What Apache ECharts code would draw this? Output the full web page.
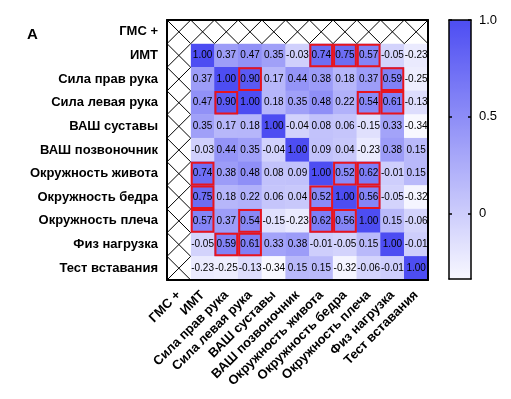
<!DOCTYPE html>
<html>
<head>
<meta charset="utf-8">
<script src="https://cdn.jsdelivr.net/npm/echarts@6/dist/echarts.min.js"></script>
<style>
  html, body { margin: 0; padding: 0; background: #fff; }
  #main { width: 511px; height: 399px; }
</style>
</head>
<body>
<div id="main"></div>
<script>
// подписи осей (первая строка/столбец - ГМС +, перечеркнуты)
var labels = ['ГМС +', 'ИМТ', 'Сила прав рука', 'Сила левая рука', 'ВАШ суставы', 'ВАШ позвоночник',
    'Окружность живота', 'Окружность бедра', 'Окружность плеча', 'Физ нагрузка', 'Тест вставания'];

// корреляции, строки сверху вниз начиная с ИМТ
var corrRows = [
    [1.00, 0.37, 0.47, 0.35, -0.03, 0.74, 0.75, 0.57, -0.05, -0.23],
    [0.37, 1.00, 0.90, 0.17, 0.44, 0.38, 0.18, 0.37, 0.59, -0.25],
    [0.47, 0.90, 1.00, 0.18, 0.35, 0.48, 0.22, 0.54, 0.61, -0.13],
    [0.35, 0.17, 0.18, 1.00, -0.04, 0.08, 0.06, -0.15, 0.33, -0.34],
    [-0.03, 0.44, 0.35, -0.04, 1.00, 0.09, 0.04, -0.23, 0.38, 0.15],
    [0.74, 0.38, 0.48, 0.08, 0.09, 1.00, 0.52, 0.62, -0.01, 0.15],
    [0.75, 0.18, 0.22, 0.06, 0.04, 0.52, 1.00, 0.56, -0.05, -0.32],
    [0.57, 0.37, 0.54, -0.15, -0.23, 0.62, 0.56, 1.00, 0.15, -0.06],
    [-0.05, 0.59, 0.61, 0.33, 0.38, -0.01, -0.05, 0.15, 1.00, -0.01],
    [-0.23, -0.25, -0.13, -0.34, 0.15, 0.15, -0.32, -0.06, -0.01, 1.00]
];

// шкала цвета
var colorMin = -0.34;
var colorMax = 1.0;
var colorbarTicks = [0, 0.5, 1.0];
var colorbarTickLabels = ['0', '0.5', '1.0'];
var highlightLimit = 0.5;

var heatData = [];
var boxData = [];
for (var r = 0; r < corrRows.length; r++) {
    for (var c = 0; c < corrRows[r].length; c++) {
        var v = corrRows[r][c];
        heatData.push([c + 1, r + 1, v]);
        if (r !== c && Math.abs(v) >= highlightLimit) {
            boxData.push([c + 1, r + 1]);
        }
    }
}

//перечеркнутые клетки ГМС +
var crossData = [];
for (var i = 0; i < labels.length; i++) {
    crossData.push([i, 0]);
    if (i > 0) crossData.push([0, i]);
}

var chart = echarts.init(document.getElementById('main'), null, { renderer: 'canvas' });

var fontName = 'Liberation Sans, Arial, sans-serif';
var boldLabel = { color: '#000', fontWeight: 'bold', fontSize: 13, fontFamily: fontName };
var frameLine = { onZero: false, show: true, lineStyle: { color: '#000', width: 2 } };
var barLine = { onZero: false, show: true, lineStyle: { color: '#000', width: 1.5 } };

var option = {
    animation: false,
    backgroundColor: '#fff',
    title: {
        text: 'A', left: 27, top: 27, padding: 0,
        textStyle: { fontSize: 15, fontWeight: 'bold', color: '#000', fontFamily: fontName }
    },
    grid: [
        { left: 167, top: 20, width: 261, height: 260 },
        { left: 449, top: 20, width: 22, height: 259 }
    ],
    xAxis: [
        {
            type: 'category', gridIndex: 0, data: labels, position: 'bottom', z: 10,
            axisLine: frameLine, axisTick: { show: false }, splitLine: { show: false },
            axisLabel: Object.assign({ rotate: 45, interval: 0, margin: 13 }, boldLabel)
        },
        {
            type: 'category', gridIndex: 0, data: labels, position: 'top', z: 10,
            axisLine: frameLine, axisTick: { show: false }, axisLabel: { show: false }
        },
        {
            type: 'value', gridIndex: 1, min: 0, max: 1, position: 'bottom', z: 10,
            axisLine: barLine, axisTick: { show: false }, axisLabel: { show: false }, splitLine: { show: false }
        },
        {
            type: 'value', gridIndex: 1, min: 0, max: 1, position: 'top', z: 10,
            axisLine: barLine, axisTick: { show: false }, axisLabel: { show: false }, splitLine: { show: false }
        }
    ],
    yAxis: [
        {
            type: 'category', gridIndex: 0, data: labels, inverse: true, position: 'left', z: 10,
            axisLine: frameLine, axisTick: { show: false },
            axisLabel: Object.assign({ interval: 0, margin: 9 }, boldLabel)
        },
        {
            type: 'category', gridIndex: 0, data: labels, inverse: true, position: 'right', z: 10,
            axisLine: frameLine, axisTick: { show: false }, axisLabel: { show: false }
        },
        {
            type: 'value', gridIndex: 1, min: colorMin, max: colorMax, position: 'right', z: 10,
            axisLine: barLine,
            axisTick: { show: true, inside: true, length: 3, customValues: colorbarTicks, lineStyle: { color: '#000', width: 1.5 } },
            axisLabel: {
                customValues: colorbarTicks, margin: 8, fontSize: 13, color: '#000', fontFamily: fontName,
                formatter: function (val) { return colorbarTickLabels[colorbarTicks.indexOf(val)]; }
            },
            splitLine: { show: false }
        },
        {
            type: 'value', gridIndex: 1, min: colorMin, max: colorMax, position: 'left', z: 10,
            axisLine: barLine,
            axisTick: { show: true, inside: true, length: 3, customValues: colorbarTicks, lineStyle: { color: '#000', width: 1.5 } },
            axisLabel: { show: false }, splitLine: { show: false }
        }
    ],
    visualMap: {
        type: 'continuous', seriesIndex: 0, min: colorMin, max: colorMax,
        orient: 'vertical', left: 449, top: 20, padding: 0,
        itemWidth: 22, itemHeight: 259, calculable: false, hoverLink: false,
        inRange: { color: ['#f8f8ff', '#4d4df2'] }
    },
    series: [
        {
            type: 'heatmap', xAxisIndex: 0, yAxisIndex: 0, data: heatData,
            label: {
                show: true, color: '#000', fontSize: 10, fontFamily: fontName,
                formatter: function (p) { return p.value[2].toFixed(2); }
            },
            itemStyle: { borderWidth: 0 }
        },
        {
            type: 'custom', xAxisIndex: 0, yAxisIndex: 0, data: crossData, z: 3,
            renderItem: function (params, api) {
                var pt = api.coord([api.value(0), api.value(1)]);
                var sz = api.size([1, 1]);
                var x0 = pt[0] - sz[0] / 2, y0 = pt[1] - sz[1] / 2;
                var x1 = pt[0] + sz[0] / 2, y1 = pt[1] + sz[1] / 2;
                var st = { stroke: '#000', lineWidth: 1 };
                return {
                    type: 'group',
                    children: [
                        { type: 'rect', shape: { x: x0, y: y0, width: sz[0], height: sz[1] }, style: { fill: '#fff' } },
                        { type: 'line', shape: { x1: x0, y1: y0, x2: x1, y2: y1 }, style: st },
                        { type: 'line', shape: { x1: x1, y1: y0, x2: x0, y2: y1 }, style: st }
                    ]
                };
            }
        },
        {
            type: 'custom', xAxisIndex: 0, yAxisIndex: 0, data: boxData, z: 4,
            renderItem: function (params, api) {
                var pt = api.coord([api.value(0), api.value(1)]);
                var sz = api.size([1, 1]);
                return {
                    type: 'rect',
                    shape: { x: pt[0] - sz[0] / 2 + 1, y: pt[1] - sz[1] / 2 + 1, width: sz[0] - 2, height: sz[1] - 2 },
                    style: { fill: 'none', stroke: '#e8141e', lineWidth: 2 }
                };
            }
        }
    ]
};

chart.setOption(option);
</script>
</body>
</html>
